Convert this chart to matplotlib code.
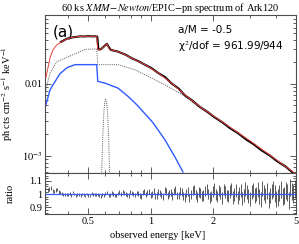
import numpy as np
import matplotlib
matplotlib.use("Agg")
import matplotlib.pyplot as plt
from matplotlib.ticker import FixedLocator, NullFormatter, MultipleLocator

# modelo total (vermelho)
model_e = [0.313, 0.328, 0.339, 0.354, 0.396, 0.442, 0.483, 0.550, 0.556, 0.570, 0.591,
           0.614, 0.636, 0.673, 0.725, 0.809, 0.938, 1.087, 1.260, 1.460, 1.725, 3.0, 5.0]
model_f = [0.0121, 0.0230, 0.0297, 0.0348, 0.0422, 0.0450, 0.0454, 0.0454, 0.0297, 0.0297, 0.0319,
           0.0356, 0.0297, 0.0287, 0.0267, 0.0227, 0.0184, 0.0141, 0.0102, 0.0070, 0.0048, 0.00162, 0.00056]

# continuo (pontilhado cinza)
cont_e = [0.313, 0.328, 0.354, 0.423, 0.483, 0.550, 0.556, 0.696, 0.839, 1.010, 1.209, 1.460, 1.725, 3.0, 5.0]
cont_f = [0.00825, 0.0142, 0.0202, 0.0253, 0.0300, 0.0303, 0.0184, 0.0184, 0.0156, 0.0120, 0.0092,
          0.0067, 0.00464, 0.00156, 0.00054]

# linha gaussiana
line_e = [0.570, 0.581, 0.588, 0.595, 0.601, 0.607, 0.613, 0.620, 0.627, 0.634, 0.645]
line_f = [0.0002, 0.0006, 0.0019, 0.0040, 0.0056, 0.0061, 0.0056, 0.0040, 0.0019, 0.0006, 0.0002]

# componente refletida (azul)
refl_e = [0.313, 0.328, 0.339, 0.366, 0.396, 0.432, 0.483, 0.550, 0.556, 0.602, 0.696, 0.777,
          0.858, 1.024, 1.171, 1.307, 1.429]
refl_f = [0.0051, 0.00825, 0.0097, 0.0138, 0.0167, 0.0184, 0.0184, 0.0184, 0.0108, 0.0102, 0.0087,
          0.0067, 0.0051, 0.0029, 0.00167, 0.00097, 0.0006]

# dados (preto)
data_e = [0.37, 0.395, 0.42, 0.44, 0.46, 0.48, 0.50, 0.52, 0.54, 0.553, 0.56, 0.575, 0.59, 0.605, 0.615,
          0.625, 0.64, 0.66, 0.69, 0.72, 0.76, 0.81, 0.87, 0.94, 1.01, 1.09, 1.17, 1.26, 1.36,
          1.46, 1.58, 1.72, 1.87, 2.03, 2.21, 2.41, 2.63, 2.87, 3.13, 3.42, 3.73, 4.07, 4.44, 4.85]
data_f = [0.0380, 0.0421, 0.0439, 0.0447, 0.0454, 0.0452, 0.0457, 0.0453, 0.0455, 0.0450, 0.0299, 0.0300,
          0.0320, 0.0343, 0.0357, 0.0331, 0.0297, 0.0289, 0.0281, 0.0268, 0.0251, 0.0226, 0.0206,
          0.0183, 0.0164, 0.0140, 0.0124, 0.0101, 0.0086, 0.0069, 0.0059, 0.0048, 0.0041, 0.00343,
          0.00293, 0.00242, 0.00207, 0.00170, 0.00145, 0.00119, 0.00102, 0.00084, 0.00072, 0.00058]

# razao dados/modelo
ratio_e = [0.320, 0.331, 0.343, 0.355, 0.367, 0.380, 0.394, 0.407, 0.422, 0.437,
           0.452, 0.468, 0.484, 0.501, 0.519, 0.537, 0.556, 0.575, 0.595, 0.616,
           0.638, 0.660, 0.683, 0.707, 0.732, 0.758, 0.784, 0.812, 0.840, 0.870,
           0.900, 0.932, 0.964, 0.998, 1.033, 1.069, 1.107, 1.146, 1.186, 1.227,
           1.270, 1.315, 1.361, 1.409, 1.458, 1.509, 1.562, 1.617, 1.673, 1.732,
           1.792, 1.855, 1.920, 1.987, 2.057, 2.129, 2.203, 2.281, 2.360, 2.443,
           2.528, 2.617, 2.708, 2.803, 2.901, 3.003, 3.108, 3.217, 3.329, 3.446,
           3.566, 3.691, 3.820, 3.954, 4.092, 4.236, 4.384, 4.537, 4.696, 4.860]
ratio = [1.030, 1.045, 1.020, 1.035, 1.012, 1.000, 0.995, 1.005, 1.015, 0.990,
         0.995, 1.002, 0.985, 0.990, 1.005, 0.995, 1.000, 0.980, 0.988, 1.010,
         0.995, 1.002, 0.990, 1.015, 1.020, 1.000, 0.990, 1.010, 0.995, 1.005,
         0.985, 1.020, 1.010, 0.995, 1.025, 0.990, 1.010, 0.980, 1.020, 1.005,
         0.985, 1.030, 0.990, 1.015, 0.975, 1.020, 1.000, 1.035, 0.980, 1.010,
         0.990, 1.040, 0.975, 1.020, 0.995, 1.030, 0.970, 1.015, 0.985, 1.040,
         1.000, 0.975, 1.025, 0.990, 1.015, 0.965, 1.030, 1.000, 0.980, 1.045,
         0.990, 0.955, 1.020, 1.005, 0.975, 1.035, 0.990, 1.010, 1.050, 1.000]
ratio_e2 = [0.325, 0.337, 0.349, 0.361, 0.373, 0.387, 0.400, 0.414, 0.429, 0.444,
            0.460, 0.476, 0.492, 0.510, 0.528, 0.546, 0.565, 0.585, 0.605, 0.627,
            0.649, 0.671, 0.695, 0.719, 0.745, 0.771, 0.798, 0.826, 0.855, 0.885,
            0.916, 0.948, 0.981, 1.015, 1.051, 1.088, 1.126, 1.166, 1.206, 1.248,
            1.292, 1.338, 1.385, 1.433, 1.483, 1.535, 1.589, 1.645, 1.702, 1.762,
            1.823, 1.887, 1.953, 2.022, 2.093, 2.166, 2.242, 2.320, 2.401, 2.485,
            2.572, 2.662, 2.755, 2.852, 2.952, 3.055, 3.162, 3.273, 3.387, 3.506,
            3.628, 3.755, 3.887, 4.022, 4.163, 4.309, 4.460, 4.616, 4.778, 4.930]
ratio2 = [1.040, 1.025, 1.030, 1.015, 1.005, 0.995, 1.000, 0.990, 1.000, 0.995,
          0.990, 0.995, 1.000, 0.985, 0.995, 1.000, 0.990, 0.995, 1.005, 0.990,
          1.010, 0.990, 1.005, 1.000, 1.010, 0.990, 1.015, 1.000, 1.010, 0.990,
          1.015, 0.995, 1.020, 1.000, 0.985, 1.015, 0.995, 1.030, 0.990, 1.015,
          1.020, 0.990, 1.025, 0.985, 1.010, 0.970, 1.030, 0.995, 1.015, 0.985,
          1.025, 1.000, 0.985, 1.045, 0.980, 1.010, 1.035, 0.990, 1.020, 0.975,
          1.030, 1.005, 0.970, 1.040, 0.985, 1.020, 0.990, 1.035, 0.960, 1.015,
          1.025, 0.990, 1.040, 0.965, 1.010, 0.980, 1.030, 0.950, 1.020, 1.040]
ratio_err = [0.014, 0.015, 0.013, 0.013, 0.012, 0.012, 0.011, 0.011, 0.010, 0.010,
             0.010, 0.010, 0.010, 0.010, 0.011, 0.011, 0.012, 0.012, 0.012, 0.012,
             0.013, 0.013, 0.014, 0.014, 0.015, 0.015, 0.016, 0.016, 0.017, 0.017,
             0.018, 0.019, 0.020, 0.021, 0.022, 0.023, 0.024, 0.025, 0.026, 0.027,
             0.028, 0.029, 0.030, 0.031, 0.032, 0.033, 0.034, 0.035, 0.036, 0.037,
             0.038, 0.039, 0.040, 0.041, 0.042, 0.043, 0.044, 0.045, 0.046, 0.047,
             0.048, 0.049, 0.050, 0.051, 0.052, 0.053, 0.054, 0.055, 0.056, 0.057,
             0.058, 0.059, 0.060, 0.061, 0.062, 0.063, 0.064, 0.065, 0.066, 0.067]

serif = "Liberation Serif"
sans = "DejaVu Sans"
plt.rcParams["font.family"] = serif
plt.rcParams["mathtext.fontset"] = "stix"

fig = plt.figure(figsize=(2.99, 2.44), dpi=100)
ax = fig.add_axes([0.1505, 0.291, 0.8395, 0.648])
axr = fig.add_axes([0.1505, 0.123, 0.8395, 0.168], sharex=ax)

ax.plot(data_e, data_f, color="black", lw=1.5, zorder=3)
ax.plot(model_e, model_f, color="#e8413c", lw=0.7, zorder=4)
ax.plot(cont_e, cont_f, color="0.35", lw=0.7, ls=(0, (1, 1.2)), zorder=2)
ax.plot(line_e, line_f, color="0.35", lw=0.7, ls=(0, (1, 1.2)), zorder=2)
ax.plot(refl_e, refl_f, color="#2f5bff", lw=1.0, zorder=2)

ax.set_xscale("log")
ax.set_yscale("log")
ax.set_xlim(0.31, 5)
ax.set_ylim(5.8e-4, 0.09)
ax.set_yticks([1e-3, 1e-2])
ax.set_yticklabels([r"$10^{-3}$", "0.01"])
ax.set_ylabel(r"ph cts cm$^{-2}$ s$^{-1}$ keV$^{-1}$", fontsize=7.5, labelpad=2)
ax.yaxis.set_label_coords(-0.12, 0.5)
ax.set_title(r"60 ks $\it{XMM\!-\!Newton}$/EPIC$-$pn spectrum of Ark120", fontsize=7.5, pad=3)

ax.text(0.03, 0.94, "(a)", transform=ax.transAxes, fontsize=11, family=sans, va="top")
ax.text(0.53, 0.905, "a/M = -0.5", transform=ax.transAxes, fontsize=7.5, family=sans, va="center")
ax.text(0.53, 0.80, r"χ$^2$/dof = 961.99/944", transform=ax.transAxes, fontsize=7.5, family=sans,
        va="center")

axr.errorbar(ratio_e + ratio_e2, ratio + ratio2, yerr=ratio_err + ratio_err, fmt="none",
             ecolor="0.25", elinewidth=0.6)
axr.axhline(1.0, color="#2f5bff", lw=0.9)
axr.set_ylim(0.85, 1.16)
axr.set_yticks([0.9, 1.0, 1.1])
axr.set_yticklabels(["0.9", "1", "1.1"])
axr.yaxis.set_minor_locator(MultipleLocator(0.02))
axr.set_ylabel("ratio", fontsize=7.5)
axr.yaxis.set_label_coords(-0.12, 0.5)
axr.set_xticks([0.5, 1, 2, 5])
axr.set_xticklabels(["0.5", "1", "2", "5"])
axr.xaxis.set_minor_locator(FixedLocator([0.4, 0.6, 0.7, 0.8, 0.9, 3, 4]))
axr.xaxis.set_minor_formatter(NullFormatter())
axr.set_xlabel("observed energy [keV]", fontsize=7.5)
axr.xaxis.set_label_coords(0.45, -0.42)

plt.setp(ax.get_xticklabels(), visible=False)
for a in (ax, axr):
    a.tick_params(which="both", direction="in", top=True, right=True, labelsize=7.5,
                  colors="0.25", labelcolor="black", width=0.6)
    a.tick_params(which="major", length=4, pad=2)
    a.tick_params(which="minor", length=2)
    for s in a.spines.values():
        s.set_color("0.3")
        s.set_linewidth(0.8)

fig.savefig("out.png", dpi=100)
